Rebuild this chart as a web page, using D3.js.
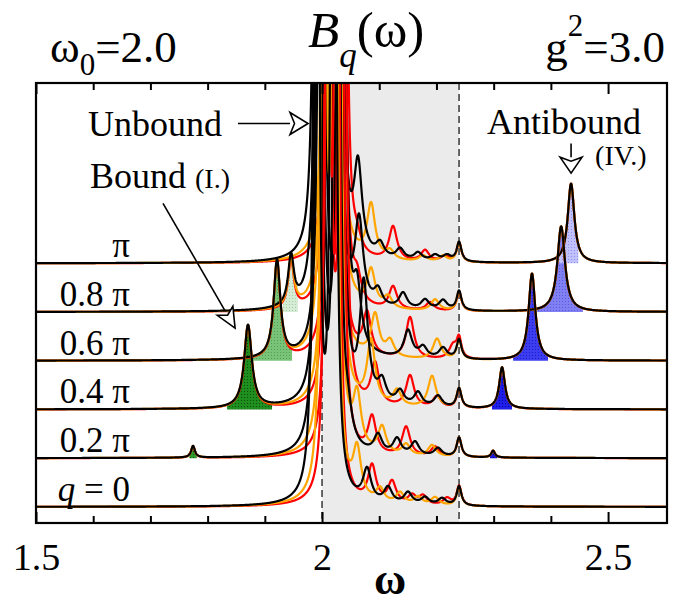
<!DOCTYPE html>
<html><head><meta charset="utf-8">
<script src="https://cdn.jsdelivr.net/npm/d3@7"></script>
<style>
body{margin:0;background:#fff}
svg{display:block}
text{font-family:"Liberation Serif","Times New Roman",serif;fill:#000}
</style>
</head><body>
<svg id="c" width="674" height="606"></svg>
<script>
// ---------- data ----------
const qLabels = ["0", "0.2 π", "0.4 π", "0.6 π", "0.8 π", "π"];
const minorTicks = [1.6, 1.7, 1.8, 1.9, 2.1, 2.2, 2.3, 2.4];
const majorTicks = [1.5, 2.0, 2.5];
const tickLabels = ["1.5", "2", "2.5"];
const continuumEdges = [2.0, 2.2395];

// giant "unbound" peaks near omega = 2 : [omega, height] per panel (q = 0 ... pi)
const giantBlack = [
  [[1.990, 56], [2.020, 60]], [[1.993, 56], [2.026, 60]], [[1.996, 56], [2.031, 60]],
  [[1.999, 56], [2.035, 60]], [[1.994, 56], [2.024, 60]], [[1.991, 56], [2.029, 60]]];
const giantOrange = [
  [[2.003, 50], [2.022, 55]], [[2.005, 50], [2.025, 55]], [[2.007, 50], [2.028, 55]],
  [[2.004, 50], [2.024, 55]], [[2.006, 50], [2.027, 55]], [[2.008, 50], [2.026, 55]]];
const giantRed = [
  [[2.009, 40], [2.026, 45]], [[2.011, 40], [2.033, 45]], [[2.010, 40], [2.037, 45]],
  [[2.012, 40], [2.030, 45]], [[2.009, 40], [2.035, 45]], [[2.010, 40], [2.038, 45]]];

// continuum (finite-size) peaks : [omega, height]
const contBlack = [
  [[2.0787, 0.65], [2.1154, 0.32], [2.1503, 0.24], [2.1801, 0.15], [2.2098, 0.14]],
  [[2.0455, 0.45], [2.0979, 0.38], [2.1311, 0.33], [2.1626, 0.28], [2.2028, 0.17]],
  [[2.073, 2.4], [2.1049, 0.42], [2.1364, 0.28], [2.1678, 0.28], [2.2028, 0.23]],
  [[2.0612, 1.2], [2.1503, 0.56], [2.1766, 0.22], [2.2115, 0.22]],
  [[2.0647, 1.7], [2.0979, 0.32], [2.1416, 0.32], [2.1801, 0.2], [2.2115, 0.2]],
  [[2.0629, 1.8], [2.1014, 0.28], [2.1364, 0.22], [2.1678, 0.16], [2.1976, 0.12], [2.2185, 0.12]]];
const contOrange = [
  [[2.0612, 1.0], [2.1014, 0.28], [2.1364, 0.23], [2.1678, 0.16], [2.1976, 0.16]],
  [[2.0612, 1.1], [2.1049, 0.55], [2.1469, 0.23], [2.1923, 0.23]],
  [[2.0857, 1.3], [2.1311, 0.32], [2.1923, 0.65]],
  [[2.0927, 0.85], [2.1189, 0.32], [2.2010, 0.42]],
  [[2.0857, 0.75], [2.1154, 0.23], [2.1976, 0.23]],
  [[2.0857, 1.1], [2.1189, 0.17], [2.1766, 0.12], [2.2115, 0.12]]];
const contRed = [
  [[2.0874, 0.75], [2.1224, 0.45], [2.1574, 0.18], [2.1766, 0.18], [2.2185, 0.15]],
  [[2.0874, 0.75], [2.1469, 0.6], [2.1976, 0.2]],
  [[2.0927, 0.85], [2.1538, 0.65], [2.2010, 0.23]],
  [[2.0787, 0.85], [2.1538, 0.85], [2.2290, 0.27]],
  [[2.0612, 0.5], [2.1241, 0.47], [2.1888, 0.17]],
  [[2.0612, 0.26], [2.1241, 0.7], [2.1801, 0.23], [2.2150, 0.12]]];
const edgePeak = [2.2395, 0.4];

// bound (I.) and antibound (IV.) peaks : [omega, height, width] or null
const boundPeaks = [null, [1.7745, 0.24, 0.004], [1.8706, 1.70, 0.008], [1.9213, 2.0, 0.007], [1.9458, 1.0, 0.006], null];
const boundFill = [null, [1.768, 1.781], [1.834, 1.9126], [1.8776, 1.9476], [1.9318, 1.958], null];
const antiPeaks = [null, [2.299, 0.14, 0.004], [2.3147, 0.85, 0.006], [2.367, 1.78, 0.007], [2.418, 1.75, 0.008], [2.4353, 1.63, 0.007]];
const antiFill = [null, [2.2937, 2.306], [2.297, 2.332], [2.334, 2.395], [2.376, 2.456], [2.411, 2.448]];

// ---------- styles ----------
const gammaGiant = 0.0025, gammaCont = 0.0085, gammaEdge = 0.005;
const boundColors = [null, ["#2e9a2e", "#0b5e0b"], ["#1e8f1e", "#0a4f0a"], ["#79c379", "#4f9f4f"], ["#d6ecd6", "#9ccf9c"], null];
const antiColors = [null, ["#1a1ad8", "#0000a0"], ["#1e1ee6", "#0000b0"], ["#3d3df0", "#1a1ad0"], ["#8080f2", "#5a5ae0"], ["#c0c0fa", "#9090ee"]];

const svg = d3.select("#c");
const L = 36, R = 667, T = 83, B = 523;
const x = d3.scaleLinear().domain([1.5, 2.603]).range([L, R]);
const y = d3.scaleLinear().domain([-0.33, 8.7]).range([B, T]);

const lor = (w, c, h, g) => h * g * g / ((w - c) * (w - c) + g * g);
function spec(k, giant, cont, w) {
  let v = k;
  giant[k].forEach(p => v += lor(w, p[0], p[1], gammaGiant));
  cont[k].forEach(p => v += lor(w, p[0], p[1], gammaCont));
  v += lor(w, edgePeak[0], edgePeak[1], gammaEdge);
  if (boundPeaks[k]) v += lor(w, ...boundPeaks[k]);
  if (antiPeaks[k]) v += lor(w, ...antiPeaks[k]);
  return v;
}
const grid = d3.range(1.5, 2.6031, 0.0004);

const defs = svg.append("defs");
defs.append("clipPath").attr("id", "clip").append("rect")
  .attr("x", L).attr("y", T).attr("width", R - L).attr("height", B - T);
function pattern(id, cols) {
  const p = defs.append("pattern").attr("id", id).attr("patternUnits", "userSpaceOnUse")
    .attr("width", 3).attr("height", 3);
  p.append("rect").attr("width", 3).attr("height", 3).attr("fill", cols[0]);
  p.append("rect").attr("x", 1).attr("y", 1).attr("width", 1).attr("height", 1).attr("fill", cols[1]);
}

const plot = svg.append("g").attr("clip-path", "url(#clip)");
// grey continuum band
plot.append("rect").attr("x", x(continuumEdges[0])).attr("y", T)
  .attr("width", x(continuumEdges[1]) - x(continuumEdges[0])).attr("height", B - T)
  .attr("fill", "#ebebeb");
plot.selectAll("line.edge").data(continuumEdges).join("line").attr("class", "edge")
  .attr("x1", d => x(d)).attr("x2", d => x(d)).attr("y1", T).attr("y2", B)
  .attr("stroke", "#444").attr("stroke-width", 1.6).attr("stroke-dasharray", "7,4");

// fills
const area = d3.area().x(d => x(d[0])).y0(d => y(d[2])).y1(d => y(d[1]));
function fillRange(k, rng, id, cols) {
  pattern(id, cols);
  const pts = grid.filter(w => w > rng[0] && w < rng[1]);
  pts.unshift(rng[0]); pts.push(rng[1]);
  plot.append("path").datum(pts.map(w => [w, spec(k, giantBlack, contBlack, w), k]))
    .attr("d", area).attr("fill", `url(#${id})`);
}
for (let k = 0; k < 6; k++) {
  if (boundFill[k]) fillRange(k, boundFill[k], "bf" + k, boundColors[k]);
  if (antiFill[k]) fillRange(k, antiFill[k], "af" + k, antiColors[k]);
}

// curves
const line = d3.line().x(d => x(d[0])).y(d => y(d[1]));
const series = [[giantRed, contRed, "#ff0000"], [giantOrange, contOrange, "#ffa500"], [giantBlack, contBlack, "#000"]];
for (let k = 5; k >= 0; k--) {
  series.forEach(s => {
    plot.append("path").datum(grid.map(w => [w, spec(k, s[0], s[1], w)]))
      .attr("d", line).attr("fill", "none").attr("stroke", s[2])
      .attr("stroke-width", 2.2).attr("stroke-linejoin", "round");
  });
}

// frame and ticks
svg.append("rect").attr("x", L).attr("y", T).attr("width", R - L).attr("height", B - T)
  .attr("fill", "none").attr("stroke", "#000").attr("stroke-width", 2.2);
function ticks(vals, len) {
  const gb = svg.append("g").attr("transform", `translate(0,${B})`)
    .call(d3.axisBottom(x).tickValues(vals).tickSize(-len).tickFormat(""));
  const gt = svg.append("g").attr("transform", `translate(0,${T})`)
    .call(d3.axisTop(x).tickValues(vals).tickSize(-len).tickFormat(""));
  [gb, gt].forEach(g => { g.select(".domain").remove(); g.selectAll("line").attr("stroke", "#000").attr("stroke-width", 2); });
}
ticks(minorTicks, 7);
ticks(majorTicks, 11);
const gl = svg.append("g").attr("transform", `translate(0,${B})`)
  .call(d3.axisBottom(x).tickValues(majorTicks).tickSize(0).tickPadding(20).tickFormat((d, i) => tickLabels[i]));
gl.select(".domain").remove();
gl.selectAll("text").attr("font-family", '"Liberation Serif",serif').attr("font-size", 38).attr("fill", "#000");

svg.append("text").attr("x", x(2.119)).attr("y", 594).attr("text-anchor", "middle")
  .attr("font-size", 44).attr("font-weight", "bold").text("ω");

// panel labels
qLabels.forEach((s, k) => {
  const t = svg.append("text").attr("x", x(1.6643)).attr("y", y(k) - 6).attr("text-anchor", "end").attr("font-size", 35);
  if (k === 0) { t.append("tspan").attr("font-style", "italic").text("q"); t.append("tspan").text(" = 0"); }
  else t.text(s);
});

// titles
const t1 = svg.append("text").attr("x", 50).attr("y", 62).attr("font-size", 45);
t1.append("tspan").text("ω");
t1.append("tspan").attr("font-size", 31).attr("dy", 13).text("0");
t1.append("tspan").attr("dy", -13).text("=2.0");
const t2 = svg.append("text").attr("x", 308).attr("y", 47).attr("font-size", 51);
t2.append("tspan").attr("font-style", "italic").text("B");
t2.append("tspan").attr("font-style", "italic").attr("font-size", 35).attr("dy", 20).text("q");
t2.append("tspan").attr("dy", -20).text("(ω)");
const t3 = svg.append("text").attr("x", 665).attr("y", 62).attr("font-size", 45).attr("text-anchor", "end");
t3.append("tspan").text("g");
t3.append("tspan").attr("font-size", 31).attr("dy", -26).text("2");
t3.append("tspan").attr("dy", 26).text("=3.0");

// annotations
function arrow(x1, y1, x2, y2, hl, hw) {
  const dx = x2 - x1, dy = y2 - y1, n = Math.hypot(dx, dy), ux = dx / n, uy = dy / n;
  const bx = x2 - ux * hl, by = y2 - uy * hl;
  svg.append("line").attr("x1", x1).attr("y1", y1).attr("x2", bx).attr("y2", by)
    .attr("stroke", "#000").attr("stroke-width", 1.6);
  svg.append("path").attr("d", `M${x2},${y2}L${bx - uy * hw},${by + ux * hw}L${bx + ux * hl * 0.25},${by + uy * hl * 0.25}L${bx + uy * hw},${by - ux * hw}Z`)
    .attr("fill", "#fff").attr("stroke", "#000").attr("stroke-width", 1.6).attr("stroke-linejoin", "miter");
}
svg.append("text").attr("x", x(1.591)).attr("y", y(7.62)).attr("font-size", 36).text("Unbound");
arrow(x(1.853), y(7.87), x(1.9755), y(7.87), 18, 11);
const bt = svg.append("text").attr("x", x(1.5944)).attr("y", y(6.54)).attr("font-size", 36);
bt.append("tspan").text("Bound ");
bt.append("tspan").attr("font-size", 28).text("(I.)");
arrow(x(1.722), y(6.23), x(1.848), y(3.67), 20, 9);
svg.append("text").attr("x", x(2.2885)).attr("y", y(7.66)).attr("font-size", 36).text("Antibound");
svg.append("text").attr("x", x(2.4773)).attr("y", y(7.01)).attr("font-size", 28).text("(IV.)");
arrow(x(2.4353), y(7.46), x(2.4353), y(6.85), 16, 11);
</script>
</body></html>
